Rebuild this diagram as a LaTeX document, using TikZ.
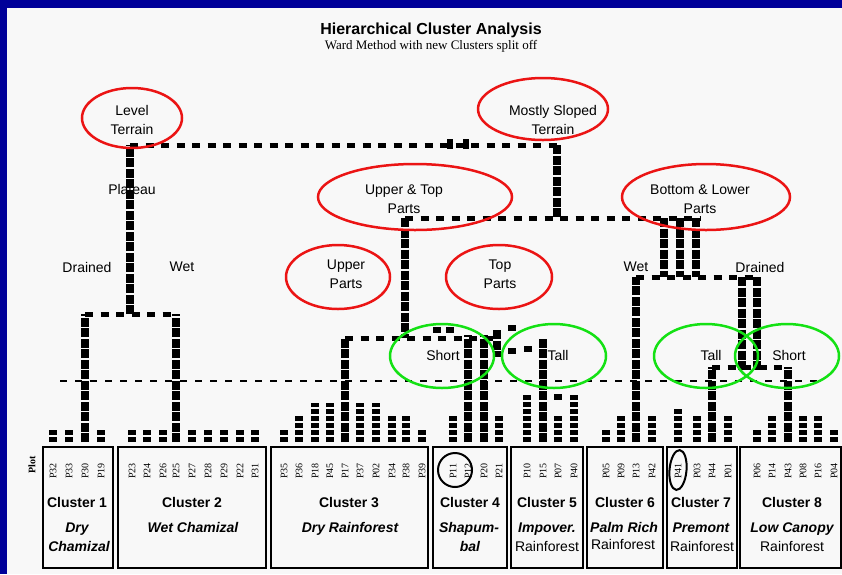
\documentclass[tikz,border=0pt]{standalone}
\usepackage{fontspec}
\setmainfont{Liberation Sans}
\newfontfamily\tnr{Liberation Serif}
\usetikzlibrary{shapes.geometric}

\definecolor{slideblue}{RGB}{0,0,153}
\definecolor{paper}{RGB}{248,248,248}
\definecolor{ringred}{RGB}{235,20,20}
\definecolor{ringgreen}{RGB}{20,225,20}

\begin{document}
\begin{tikzpicture}[x=1pt, y=-1pt,
  stem/.style={line width=8.5pt, dash pattern=on 9pt off 1.5pt},
  leaf/.style={line width=8pt, dash pattern=on 5pt off 2pt},
  link/.style={line width=5pt, dash pattern=on 8pt off 7.5pt},
  cut/.style={line width=2.5pt, dash pattern=on 7pt off 8pt},
  ring/.style={ellipse, draw=ringred, line width=2.5pt, inner sep=0pt},
  gring/.style={ellipse, draw=ringgreen, line width=2.5pt, inner sep=0pt},
  lab/.style={font=\fontsize{14}{19}\selectfont, align=center, inner sep=0pt},
  plot/.style={font=\tnr\fontsize{10}{10}\selectfont, rotate=90, inner sep=0pt},
  clbox/.style={draw, line width=2pt, inner sep=0pt, minimum height=121},
  cltitle/.style={font=\bfseries\fontsize{14}{16}\selectfont, anchor=base, inner sep=0pt},
  cltype/.style={font=\bfseries\itshape\fontsize{14}{16}\selectfont, anchor=base, inner sep=0pt},
  clplain/.style={font=\fontsize{14}{16}\selectfont, anchor=base, inner sep=0pt}
]
% slide background
\fill[paper] (0,0) rectangle (842,574);
\fill[slideblue] (0,0) rectangle (842,8);
\fill[slideblue] (0,0) rectangle (7,574);
\useasboundingbox (0,0) rectangle (842,574);

\node[font=\bfseries\fontsize{16}{16}\selectfont] (title) at (431,30) {Hierarchical Cluster Analysis};
\node[font=\tnr\fontsize{13}{13}\selectfont] (subtitle) at (431,46) {Ward Method with new Clusters split off};

% branch labels (under the stems)
\node[lab] (plateau) at (132,189) {Plateau};
\node[lab] (drainedL) at (87,267) {Drained};
\node[lab] (wetL) at (182,267) {Wet};
\node[lab] (wetR) at (636,267) {Wet};
\node[lab] (drainedR) at (760,267) {Drained};

% leaves with short bars
\foreach \pid/\x/\ytop in {P32/53/429, P33/69/429, P19/101/429,
    P23/132/429, P24/147/429, P26/163/429, P27/192/429, P28/208/429, P29/224/429, P22/240/429, P31/255/429,
    P35/284/429, P36/299/416, P18/315/403, P45/330/403, P37/360/403, P02/376/403, P34/392/416, P38/406/416, P39/422/429,
    P11/453/416, P21/499/416,
    P10/527/395, P07/558/416, P40/574/395,
    P05/606/429, P09/621/416, P42/652/416,
    P41/678/409, P03/697/416, P01/728/416,
    P06/757/429, P14/772/416, P08/803/416, P16/818/416, P04/834/429} {
  \coordinate (\pid) at (\x,442);
  \draw[leaf] (\pid) -- (\x,\ytop);
  \node[plot] (l\pid) at (\x,471) {\pid};
}
% leaves that carry a stem up to their merge
\foreach \pid/\x/\ytop in {P30/85/314, P25/176/314, P17/345/338, P12/468/335, P20/484/335,
    P15/543/337, P13/636/277, P44/712/367, P43/788/367} {
  \coordinate (\pid) at (\x,442);
  \draw[stem] (\pid) -- (\x,\ytop);
  \node[plot] (l\pid) at (\x,471) {\pid};
}
\node[font=\tnr\bfseries\fontsize{10}{10}\selectfont, rotate=90] (plotlab) at (32,465) {Plot};

% merges
\coordinate (m12) at (130,314);
\coordinate (root) at (130,145);
\coordinate (rootR) at (557,145);
\coordinate (slope) at (557,218);
\coordinate (ut) at (405,218);
\coordinate (utm) at (405,338);
\coordinate (bl) at (680,218);
\coordinate (blm) at (680,277);

\draw[link] (P30 |- m12) -- (P25 |- m12);
\draw[stem] (m12) -- (root);
\draw[link] (root) -- (rootR);
\fill (447,139) rectangle (453,149);
\fill (463,139) rectangle (469,149);
\draw[stem] (rootR) -- (slope);
\draw[link] (ut) -- (700,218);
\draw[stem] (ut) -- (utm);
\draw[link] (P17 |- utm) -- (497,338);
\draw[stem] (497,330) -- (497,357);
\foreach \x/\y in {437/330, 450/330, 512/328, 512/351, 528/349, 558/397}
  \fill (\x-4,\y-3) rectangle (\x+4,\y+3);
\foreach \dx in {-16,0,16}
  \draw[stem, line width=7.5pt] ([xshift=\dx pt]bl) -- ([xshift=\dx pt]blm);
\draw[link] (P13 |- blm) -- (757,277);
\draw[stem] (742,277) -- (742,370);
\draw[stem] (757,277) -- (757,370);
\draw[link] (P44 |- 0,367) -- (P43 |- 0,367);

% cut level
\coordinate (cutL) at (60,381);
\coordinate (cutR) at (820,381);
\draw[cut] (cutL) -- (cutR);

% cluster boxes
\node[clbox, minimum width=70] (c1) at (78,507.5) {};
\node[clbox, minimum width=148] (c2) at (192,507.5) {};
\node[clbox, minimum width=157] (c3) at (349.5,507.5) {};
\node[clbox, minimum width=74] (c4) at (470,507.5) {};
\node[clbox, minimum width=72] (c5) at (547,507.5) {};
\node[clbox, minimum width=76] (c6) at (625,507.5) {};
\node[clbox, minimum width=70] (c7) at (702,507.5) {};
\node[clbox, minimum width=101] (c8) at (790.5,507.5) {};

\node[cltitle] (t1) at (77,507) {Cluster 1};
\node[cltype] (n1) at (77,532) {Dry};
\node[cltype] (m1) at (79,551) {Chamizal};
\node[cltitle] (t2) at (192,507) {Cluster 2};
\node[cltype] (n2) at (193,532) {Wet Chamizal};
\node[cltitle] (t3) at (349,507) {Cluster 3};
\node[cltype] (n3) at (350,532) {Dry Rainforest};
\node[cltitle] (t4) at (470,507) {Cluster 4};
\node[cltype] (n4) at (469,532) {Shapum-};
\node[cltype] (m4) at (470,551) {bal};
\node[cltitle] (t5) at (547,507) {Cluster 5};
\node[cltype] (n5) at (547,532) {Impover.};
\node[clplain] (m5) at (547,551) {Rainforest};
\node[cltitle] (t6) at (625,507) {Cluster 6};
\node[cltype] (n6) at (624,532) {Palm Rich};
\node[clplain] (m6) at (623,549) {Rainforest};
\node[cltitle] (t7) at (701,507) {Cluster 7};
\node[cltype] (n7) at (701,532) {Premont};
\node[clplain] (m7) at (702,551) {Rainforest};
\node[cltitle] (t8) at (792,507) {Cluster 8};
\node[cltype] (n8) at (792,532) {Low Canopy};
\node[clplain] (m8) at (792,551) {Rainforest};

% highlighted plots
\node[draw, circle, line width=2pt, minimum size=34, inner sep=0pt] (hl11) at (455,470) {};
\node[draw, ellipse, line width=2pt, minimum width=17, minimum height=40, inner sep=0pt, rotate=-5] (hl41) at (678,470) {};

% red rings: terrain and parts
\node[ring, minimum width=100, minimum height=60] (level) at (132,118) {};
\node[lab] (levelT) at (132,120) {Level\\Terrain};
\node[ring, minimum width=130, minimum height=62] (sloped) at (543,109) {};
\node[lab] (slopedT) at (553,120) {Mostly Sloped\\Terrain};
\node[ring, minimum width=194, minimum height=66] (uptop) at (415,197) {};
\node[lab] (uptopT) at (404,199) {Upper \& Top\\Parts};
\node[ring, minimum width=104, minimum height=64] (upper) at (338,277) {};
\node[lab] (upperT) at (346,274) {Upper\\Parts};
\node[ring, minimum width=106, minimum height=64] (topp) at (499,277) {};
\node[lab] (toppT) at (500,274) {Top\\Parts};
\node[ring, minimum width=168, minimum height=66] (botlow) at (706,197) {};
\node[lab] (botlowT) at (700,199) {Bottom \& Lower\\Parts};

% green rings: canopy height
\node[gring, minimum width=104, minimum height=64] (shortL) at (442,356) {};
\node[lab] (shortLT) at (443,355) {Short};
\node[gring, minimum width=104, minimum height=64] (tallL) at (554,356) {};
\node[lab] (tallLT) at (558,355) {Tall};
\node[gring, minimum width=104, minimum height=64] (tallR) at (706,356) {};
\node[lab] (tallRT) at (711,355) {Tall};
\node[gring, minimum width=104, minimum height=64] (shortR) at (787,356) {};
\node[lab] (shortRT) at (789,355) {Short};
\end{tikzpicture}
\end{document}
